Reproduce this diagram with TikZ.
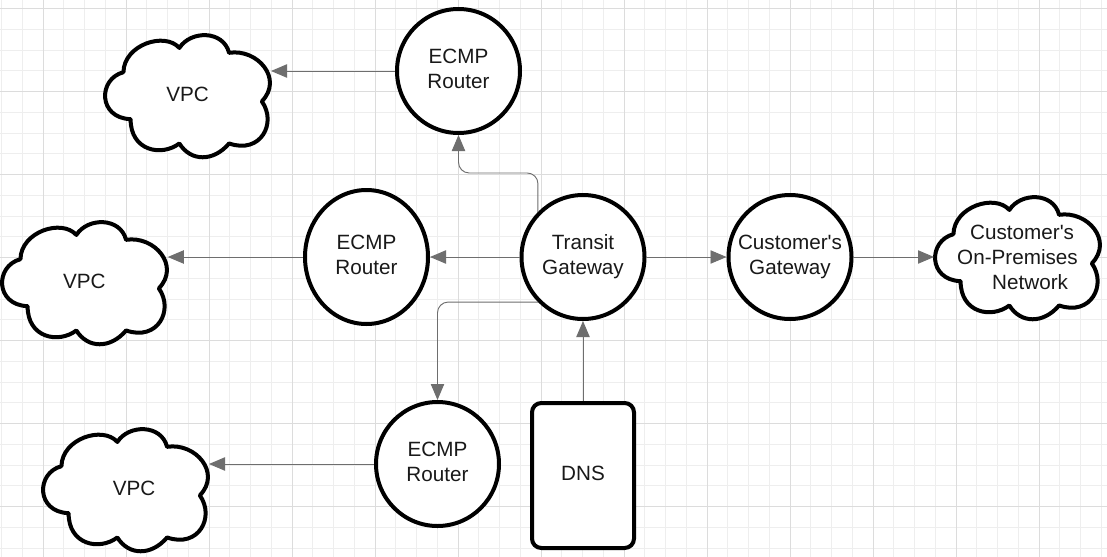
\documentclass[tikz,border=0pt]{standalone}
\usepackage{fontspec}
\setmainfont{Liberation Sans}
\usetikzlibrary{arrows.meta,shapes.geometric}
\newcommand{\cloudOutline}[2]{
  \draw[cloudLine,shift={(#1,#2)},xscale=163,yscale=122]
    (0.107,0.305) .. controls (0.11,0.08) and (0.36,-0.03) .. (0.45,0.106)
    .. controls (0.52,-0.04) and (0.72,-0.04) .. (0.755,0.146)
    .. controls (0.93,0.11) and (1.09,0.36) .. (0.956,0.544)
    .. controls (1.05,0.72) and (0.95,0.98) .. (0.755,0.889)
    .. controls (0.66,1.04) and (0.52,1.04) .. (0.45,0.889)
    .. controls (0.34,1.0) and (0.15,0.95) .. (0.151,0.69)
    .. controls (-0.05,0.68) and (-0.05,0.36) .. cycle;
}
\tikzset{
  every node/.style={font=\fontsize{15.5}{18.75}\selectfont,text=black!90},
  cloudLine/.style={draw=black,fill=white,line width=3pt,line join=round},
  hub/.style={ellipse,draw=black,fill=white,line width=3pt,inner sep=0pt,align=center,minimum width=92.25pt,minimum height=93pt},
  routerHub/.style={hub,text depth=3pt},
  dnsBox/.style={rectangle,rounded corners=7pt,draw=black,fill=white,line width=3pt,minimum width=76.5pt,minimum height=108.75pt,text depth=3pt},
  cloudText/.style={inner sep=0pt,outer sep=0pt,minimum width=125.25pt,minimum height=94pt},
  link/.style={draw=linkGray,line width=0.7pt,-{Triangle[length=12pt,width=10pt,fill=linkGray]}}
}
\begin{document}
\begin{tikzpicture}[x=0.75pt,y=-0.75pt]
\definecolor{gridMinor}{HTML}{EEEEEE}
\definecolor{gridMajor}{HTML}{DCDCDC}
\definecolor{linkGray}{HTML}{6E6E6E}
\useasboundingbox (0,0) rectangle (1107,557);
\fill[white] (0,0) rectangle (1107,557);
\foreach \k in {0,...,53} {
  \draw[gridMinor,line width=0.75pt] ({1.5+20.75*\k},0) -- ({1.5+20.75*\k},557);
}
\foreach \k in {0,...,26} {
  \draw[gridMinor,line width=0.75pt] (0,{8.5+20.75*\k}) -- (1107,{8.5+20.75*\k});
}
\foreach \k in {0,...,13} {
  \draw[gridMajor,line width=0.75pt] ({43+83*\k},0) -- ({43+83*\k},557);
}
\foreach \k in {0,...,6} {
  \draw[gridMajor,line width=0.75pt] (0,{8.5+83*\k}) -- (1107,{8.5+83*\k});
}
\cloudOutline{106}{35}
\cloudOutline{3}{222}
\cloudOutline{44}{429}
\cloudOutline{936}{197}
\node[cloudText] (vpcTop) at (187.5,94) {VPC};
\node[cloudText] (vpcLeft) at (84.3,281) {VPC};
\node[cloudText,minimum width=112.5pt] (vpcBottom) at (134,488) {VPC};
\node[cloudText,align=left] (onPremises) at (1017.5,257) {\hspace*{9.75pt}Customer\textquotesingle s\\On-Premises\\\hspace*{26.25pt}Network};
\node[routerHub] (routerTop) at (458.5,71) {ECMP\\Router};
\node[routerHub,minimum height=100.5pt] (routerLeft) at (366.5,257) {ECMP\\Router};
\node[routerHub] (routerBottom) at (437.5,464) {ECMP\\Router};
\node[hub] (transit) at (583,257) {Transit\\Gateway};
\node[hub] (customerGateway) at (790,257) {\makebox[60pt]{Customer\textquotesingle s}\\Gateway};
\node[dnsBox] (dns) at (583,475.5) {DNS};
\coordinate (bendTop) at (500,173);
\draw[link] (routerTop.west) -- (vpcTop.east |- routerTop.west);
\draw[link] (routerLeft.west) -- (vpcLeft.east |- routerLeft.west);
\draw[link] (routerBottom.west) -- (vpcBottom.east |- routerBottom.west);
\draw[link] (transit.west) -- (routerLeft.east);
\draw[link] (transit.east) -- (customerGateway.west);
\draw[link] (customerGateway.east) -- (onPremises.west);
\draw[link] (dns.north) -- (transit.south);
\draw[link,rounded corners=8pt] (transit.135) |- (bendTop) -| (routerTop.south);
\draw[link,rounded corners=8pt] (transit.225) -| (routerBottom.north);
\end{tikzpicture}
\end{document}
